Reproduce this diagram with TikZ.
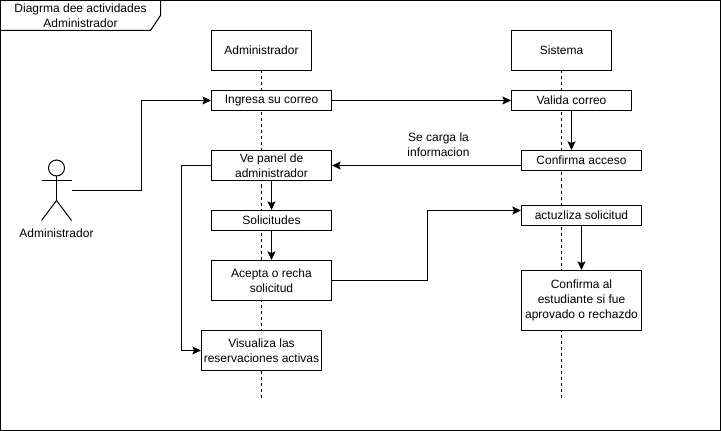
\documentclass[tikz,border=0pt]{standalone}
\usepackage{fontspec}
\setmainfont{Liberation Sans}
\usetikzlibrary{arrows.meta}

\tikzset{
	caja/.style={draw, fill=white, line width=0.75pt, inner sep=0pt, align=center, font=\fontsize{9}{11.2}\selectfont},
	texto/.style={inner sep=0pt, align=center, font=\fontsize{9}{11.2}\selectfont},
	linea/.style={line width=0.75pt},
	flecha/.style={linea, -{Stealth[length=6.5pt,width=6pt,inset=1.3pt]}},
	vida/.style={linea, dash pattern=on 2.25pt off 2.25pt},
}

\newcommand{\caja}[6]{% name, x, y, width, height, text
	\node[caja, minimum width=#4*0.75pt, minimum height=#5*0.75pt] (#1) at (#2,#3) {#6};
}

\begin{document}
\begin{tikzpicture}[x=0.75pt,y=-0.75pt]

\useasboundingbox (-0.5,-0.5) rectangle (720.5,430.5);

%marco
\draw[linea] (0,0) rectangle (720,430);
\draw[linea] (0,30) -- (150,30) -- (160,15) -- (160,0);
\node[texto] (titulo) at (80,15.5) {Diagrma dee actividades\\Administrador};

%lineas de vida
\coordinate (admintop) at (261,70);
\coordinate (adminfin) at (261,398);
\coordinate (sistop) at (561,70);
\coordinate (sisfin) at (561,398);
\draw[vida] (admintop) -- (adminfin);
\draw[vida] (sistop) -- (sisfin);

\caja{admin}{261}{50}{100}{40}{Administrador}
\caja{sistema}{561}{50}{100}{40}{Sistema}

\caja{ingresa}{271}{100}{120}{20}{Ingresa su correo}
\caja{panel}{271}{165}{120}{30}{Ve panel de\\administrador}
\caja{solicitudes}{271}{220}{120}{20}{Solicitudes}
\caja{acepta}{271}{280}{120}{40}{Acepta o recha\\solicitud}
\caja{visualiza}{261}{350}{120}{40}{Visualiza las\\reservaciones activas}

\caja{valida}{571}{100}{120}{20}{Valida correo}
\caja{confirma}{581}{160}{120}{20}{Confirma acceso}
\caja{actualiza}{581}{215}{120}{20}{actuzliza solicitud}
\caja{estudiante}{581}{300}{120}{60}{Confirma al\\estudiante si fue\\aprovado o rechazdo}

%actor
\coordinate (cabeza) at (56,167.5);
\coordinate (cuerpo) at (56,200);
\coordinate (actor) at (71,190);
\draw[linea] (cabeza) circle (8);
\draw[linea] (56,175.5) -- (cuerpo);
\draw[linea] (41,180) -- (71,180);
\draw[linea] (41,220) -- (cuerpo) -- (71,220);
\node[texto] (actornombre) at (56,233) {Administrador};

\node[texto] (carga) at (438,144.5) {Se carga la\\informacion};

\draw[flecha] (actor) -- (141,190) |- (ingresa.west);
\draw[flecha] (ingresa.east) -- (valida.west);
\draw[flecha] (valida.south) -- (valida.south |- confirma.north);
\draw[flecha] (confirma.west |- panel.east) -- (panel.east);
\draw[flecha] (panel.south) -- (solicitudes.north);
\draw[flecha] (solicitudes.south) -- (acepta.north);
\draw[flecha] (panel.west) -- ++(-30,0) |- (visualiza.west);
\draw[flecha] (acepta.east) -- ++(95.5,0) |- ([yshift=3.75pt]actualiza.west);
\draw[flecha] (actualiza.south) -- (estudiante.north);

\end{tikzpicture}
\end{document}
